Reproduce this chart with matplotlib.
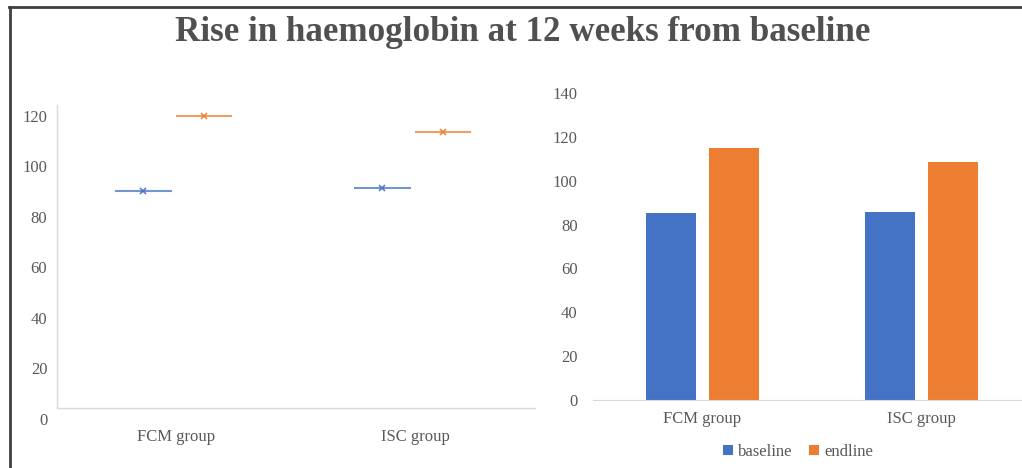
import numpy as np
import matplotlib.pyplot as plt
from matplotlib.lines import Line2D

# data
groups = ['FCM group', 'ISC group']
series = ['baseline', 'endline']
# left panel (collapsed box plots, x = mean)
box_baseline = [90.3, 91.5]
box_endline = [120.0, 113.5]
# right panel (bars)
bar_baseline = [85.3, 85.9]
bar_endline = [114.9, 108.7]
left_ticks = [0, 20, 40, 60, 80, 100, 120]
right_ticks = [0, 20, 40, 60, 80, 100, 120, 140]

blue = '#4472C4'
orange = '#ED7D31'
tick_col = '#595959'
axis_col = '#d9d9d9'

plt.rcParams['font.family'] = ['Liberation Serif', 'DejaVu Serif']

fig = plt.figure(figsize=(10.22, 4.68), dpi=100)

# outer frame (top and left only are visible)
fig.add_artist(Line2D([0.0095, 0.0095], [0, 0.985], transform=fig.transFigure,
                      color='#404040', lw=2))
fig.add_artist(Line2D([0.0085, 1.0], [0.985, 0.985], transform=fig.transFigure,
                      color='#404040', lw=2))

fig.text(0.511, 0.93, 'Rise in haemoglobin at 12 weeks from baseline',
         ha='center', va='center', fontsize=25.2, fontweight='bold', color='#505050')

x = np.arange(len(groups))

# ---- left panel ----
ax1 = fig.add_axes([0.0558, 0.1047, 0.4677, 0.671])
half = 0.115
for vals, off, col in [(box_baseline, -0.14, blue), (box_endline, 0.115, orange)]:
    for xi, v in zip(x, vals):
        ax1.plot([xi + off - half, xi + off + half], [v, v], color=col, lw=1.5, alpha=0.75)
        ax1.plot(xi + off, v, marker='x', color=col, ms=5, mew=1.2, alpha=0.9)
ax1.set_xlim(-0.5, 1.5)
ax1.set_ylim(0, 124.2)
ax1.set_yticks(left_ticks)
ax1.set_xticks(x)
ax1.set_xticklabels(groups)
for s in ['top', 'right']:
    ax1.spines[s].set_visible(False)
ax1.spines['bottom'].set_position(('data', 4.35))
ax1.spines['left'].set_bounds(4.35, 124.2)
for s in ['bottom', 'left']:
    ax1.spines[s].set_color(axis_col)
    ax1.spines[s].set_linewidth(1)
ax1.tick_params(axis='both', length=0, colors=tick_col, labelsize=12)
ax1.tick_params(axis='y', pad=7)
ax1.tick_params(axis='x', pad=15)

# ---- right panel ----
ax2 = fig.add_axes([0.5802, 0.1453, 0.4286, 0.656])
w = 0.228
b1 = ax2.bar(x - 0.144, bar_baseline, w, color=blue, label=series[0])
b2 = ax2.bar(x + 0.144, bar_endline, w, color=orange, label=series[1])
ax2.set_xlim(-0.5, 1.5)
ax2.set_ylim(0, 140)
ax2.set_yticks(right_ticks)
ax2.set_xticks(x)
ax2.set_xticklabels(groups)
for s in ['top', 'right', 'left']:
    ax2.spines[s].set_visible(False)
ax2.spines['bottom'].set_color(axis_col)
ax2.tick_params(axis='both', length=0, colors=tick_col, labelsize=12)
ax2.tick_params(axis='y', pad=11)
ax2.tick_params(axis='x', pad=8)

fig.legend(handles=[b1, b2], loc='center', bbox_to_anchor=(798 / 1022, 1 - 452 / 468),
           ncol=2, frameon=False, fontsize=12, handlelength=0.6, handleheight=0.6,
           handletextpad=0.3, columnspacing=1.0, labelcolor=tick_col)

fig.savefig('out.png', dpi=100)
